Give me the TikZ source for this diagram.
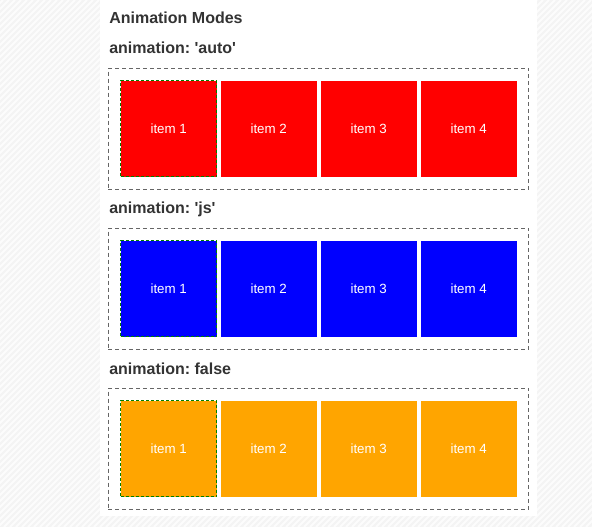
\documentclass[tikz,border=0pt]{standalone}
\usepackage{fontspec}
\setmainfont{Liberation Sans}
\usetikzlibrary{positioning, fit}
\definecolor{headgray}{HTML}{333333}
\definecolor{framegray}{HTML}{666666}
\definecolor{markgreen}{HTML}{008000}
\definecolor{bggray}{HTML}{F4F4F4}
\definecolor{itemred}{HTML}{FF0000}
\definecolor{itemblue}{HTML}{0000FF}
\definecolor{itemorange}{HTML}{FFA500}
\newcommand{\q}{\textquotesingle}

\begin{document}
\frenchspacing
\begin{tikzpicture}[x=0.75pt, y=-0.75pt,
    item/.style={minimum size=72pt, inner sep=0pt, text=white, font=\fontsize{10}{12}\selectfont},
    heading/.style={anchor=base west, inner sep=0pt, text=headgray, font=\bfseries\fontsize{12}{14}\selectfont},
    frame/.style={draw=framegray, dash pattern=on 3pt off 2.25pt, line width=0.75pt, inner sep=9pt},
    firstitem/.style={draw=markgreen, dash pattern=on 2.25pt off 1.5pt, line width=0.75pt}]
  \useasboundingbox (0,0) rectangle (592,527);
  % striped page background
  \fill[bggray] (0,0) rectangle (592,527);
  \begin{scope}
    \clip (0,0) rectangle (592,527);
    \foreach \k in {-560,-554,...,600}
      \draw[white!70!bggray, line width=1.5pt] (\k,527) -- (\k+527,0);
  \end{scope}
  \fill[white] (100,0) rectangle (537,516);

  \node[heading] (title) at (109,24) {Animation Modes};

  \foreach \mode/\col [count=\r] in {\q auto\q/itemred, \q js\q/itemblue, false/itemorange} {
    \node[heading] (head\r) at (109,{54+160*(\r-1)}) {animation: \mode};
    \node[item, fill=\col, firstitem] (row\r-1) at (168.7,{128.7+160*(\r-1)}) {item 1};
    \foreach \i in {2,3,4}
      \node[item, fill=\col] (row\r-\i) at ({168.7+100*(\i-1)},{128.7+160*(\r-1)}) {item \i};
    \node[frame, fit=(row\r-1)(row\r-4)] (box\r) {};
  }
\end{tikzpicture}
\end{document}
